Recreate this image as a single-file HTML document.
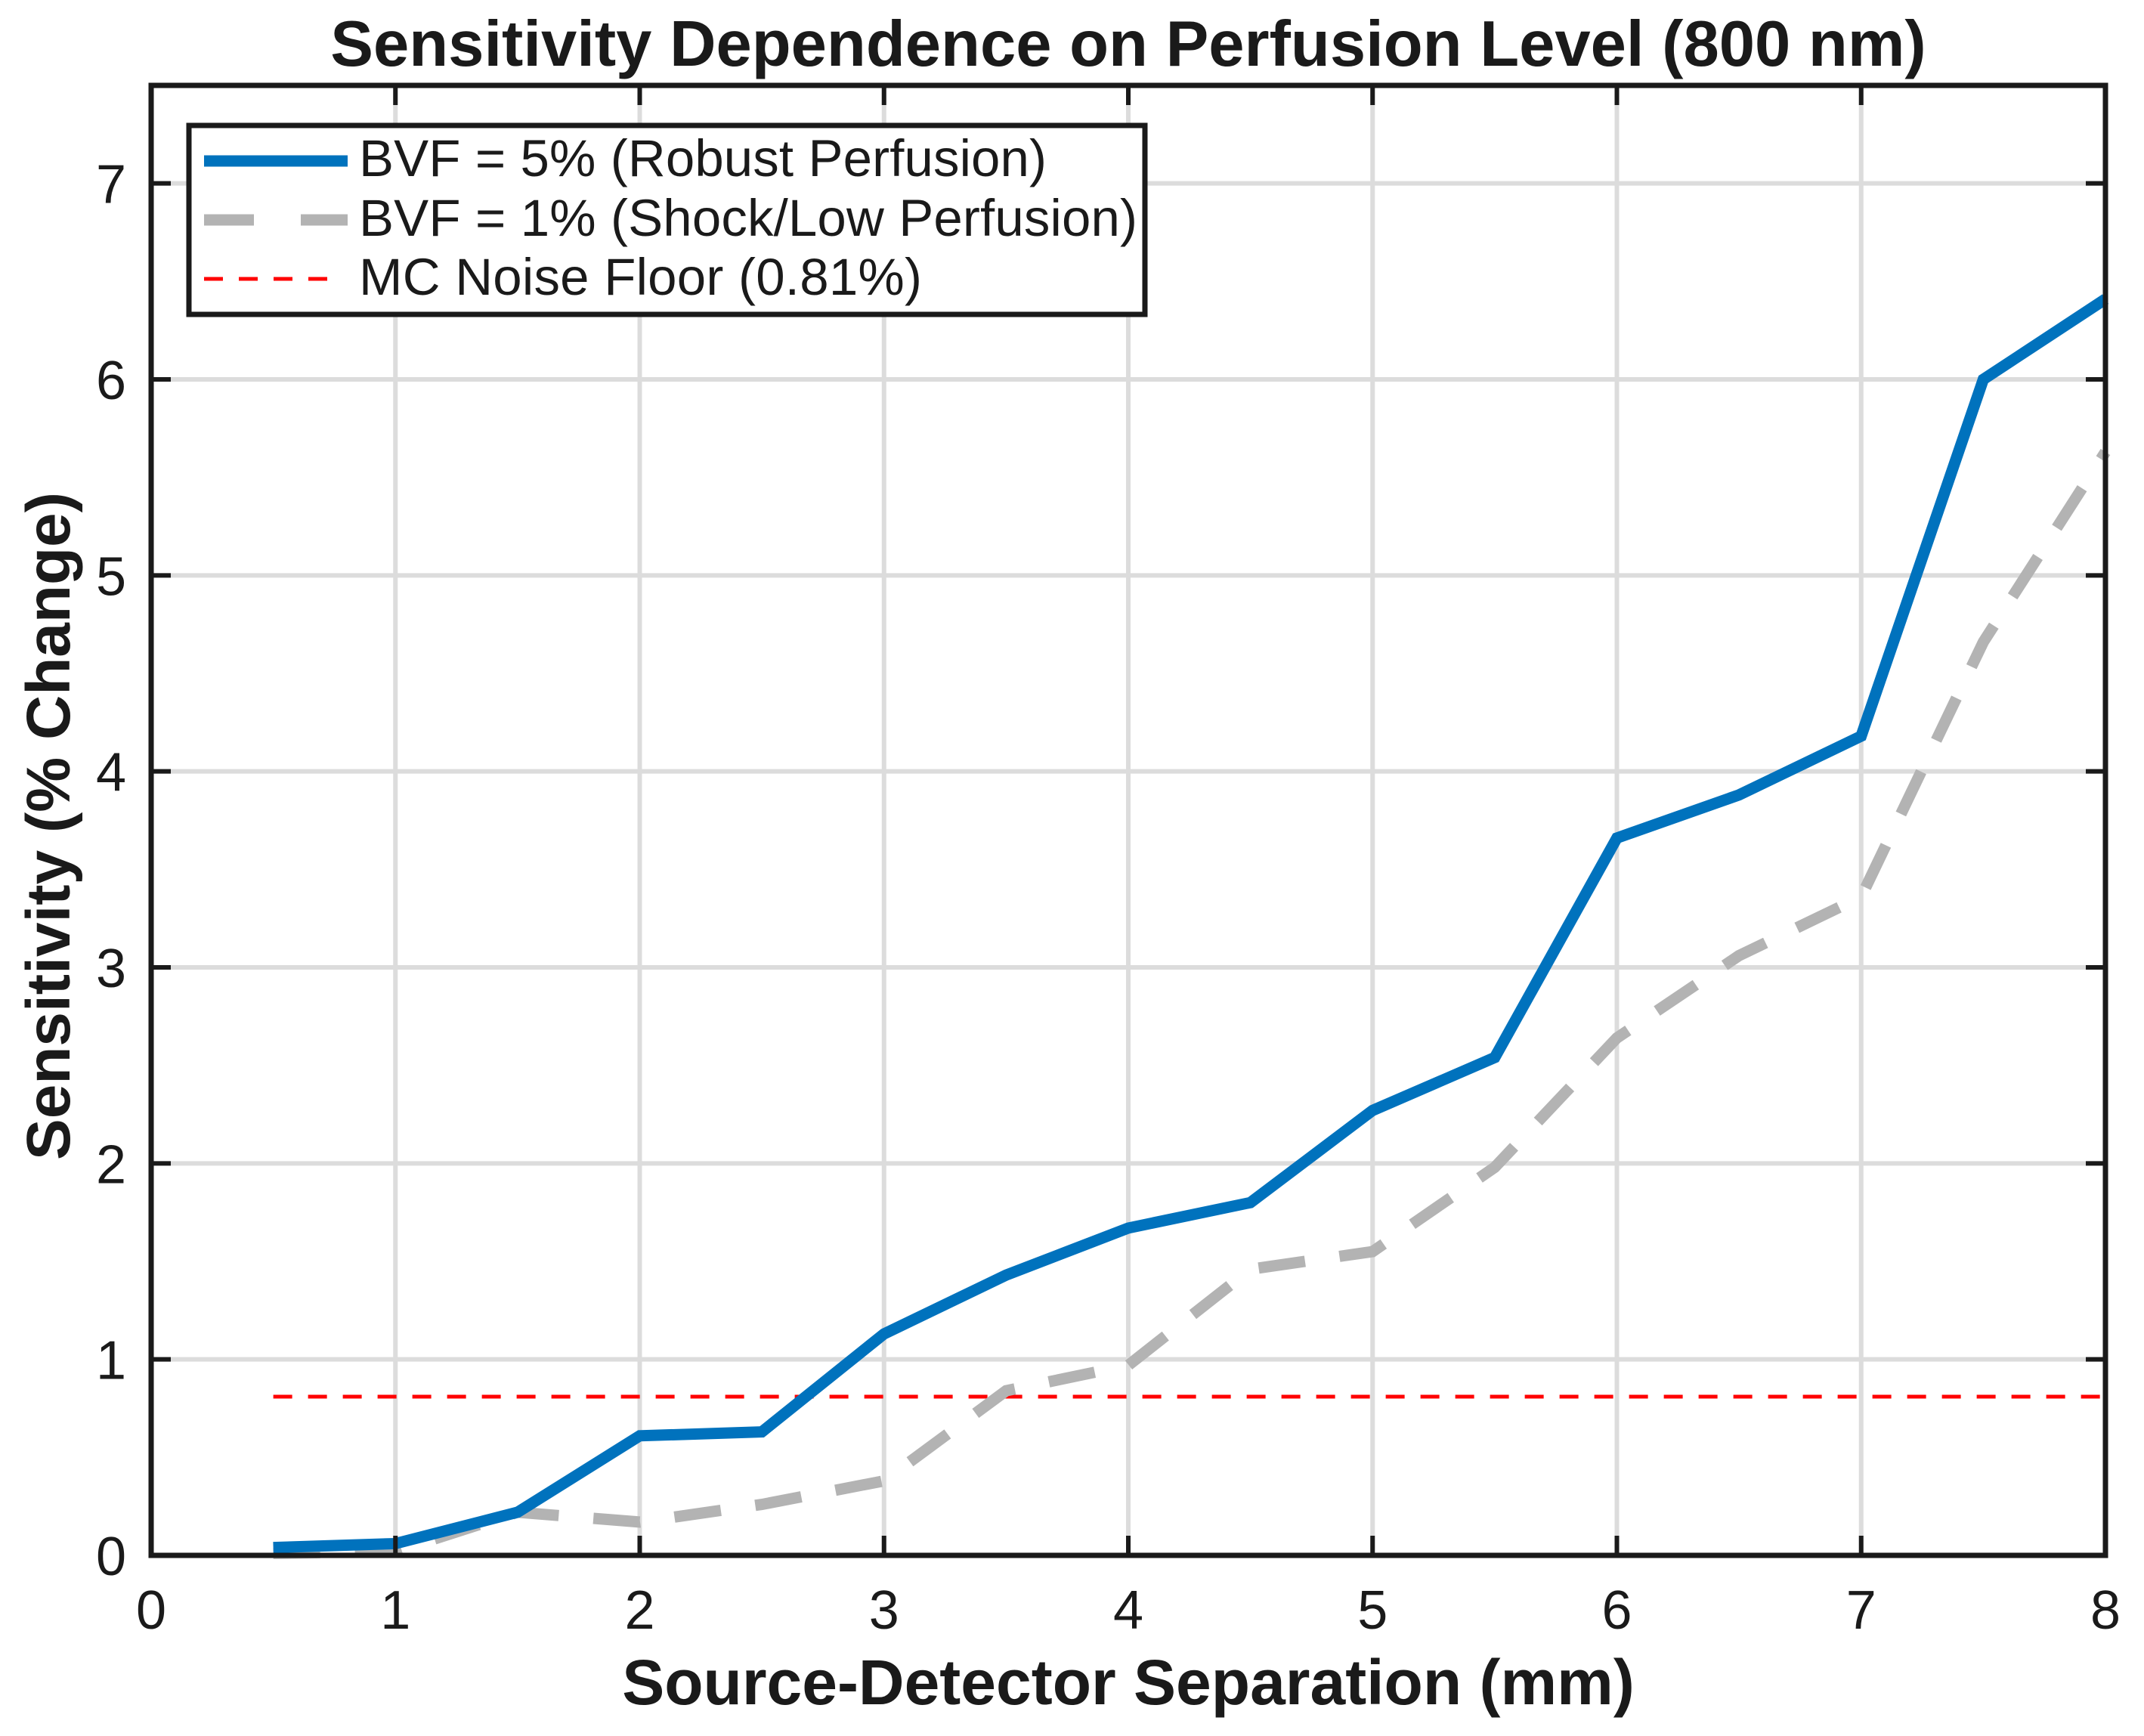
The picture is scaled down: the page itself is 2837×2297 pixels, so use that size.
<!DOCTYPE html>
<html><head><meta charset="utf-8"><style>
html,body{margin:0;padding:0;background:#fff;}
svg{display:block;font-family:"Liberation Sans",Arial,sans-serif;}
</style></head><body>
<svg id="chart" width="2837" height="2297" viewBox="0 0 2837 2297">
<g id="grid"></g>
<g id="series"></g>
<g id="axes"></g>
<text x="1493" y="87" text-anchor="middle" font-size="85" font-weight="bold" fill="#1a1a1a">Sensitivity Dependence on Perfusion Level (800 nm)</text>
<text x="1493" y="2255" text-anchor="middle" font-size="84" font-weight="bold" fill="#1a1a1a">Source-Detector Separation (mm)</text>
<text transform="translate(92,1093) rotate(-90)" text-anchor="middle" font-size="82" font-weight="bold" fill="#1a1a1a">Sensitivity (% Change)</text>
<g>
<rect x="250" y="166" width="1265" height="250" fill="#fff" stroke="#1a1a1a" stroke-width="7"/>
<g>
<line x1="270" y1="213" x2="460" y2="213" stroke="#0072bd" stroke-width="15"/>
<text x="475" y="233" font-size="69" fill="#1a1a1a" textLength="910">BVF = 5% (Robust Perfusion)</text></g>
<g>
<line x1="270" y1="291" x2="460" y2="291" stroke="#b3b3b3" stroke-width="15" stroke-dasharray="66,62"/>
<text x="475" y="312" font-size="69" fill="#1a1a1a" textLength="1030">BVF = 1% (Shock/Low Perfusion)</text></g>
<g>
<line x1="270" y1="369" x2="445" y2="369" stroke="#ff0000" stroke-width="5" stroke-dasharray="25,21"/>
<text x="475" y="390" font-size="69" fill="#1a1a1a" textLength="745">MC Noise Floor (0.81%)</text></g>
</g>
</svg>
<script>
const xs = [0.5,1,1.5,2,2.5,3,3.5,4,4.5,5,5.5,6,6.5,7,7.5,8];
const bvf5 = [0.04,0.06,0.22,0.61,0.63,1.13,1.43,1.67,1.80,2.27,2.54,3.66,3.88,4.18,6.00,6.41];
const bvf1 = [0.01,0.02,0.22,0.17,0.26,0.38,0.84,0.97,1.46,1.55,1.98,2.64,3.06,3.36,4.66,5.63];
const noiseFloor = [0.81];
const noiseRange = [0.5,8];
const xTicks = [0,1,2,3,4,5,6,7,8];
const yTicks = [0,1,2,3,4,5,6,7];

const L=200,R=2786,T=113,B=2058,XMAX=8,YMAX=7.5;
const sx=v=>L+(R-L)*v/XMAX;
const sy=v=>B-(B-T)*v/YMAX;
const NS='http://www.w3.org/2000/svg';
function mk(tag,attrs,parent){const e=document.createElementNS(NS,tag);for(const k in attrs)e.setAttribute(k,attrs[k]);parent.appendChild(e);return e;}
const grid=document.getElementById('grid'),series=document.getElementById('series'),axes=document.getElementById('axes');

xTicks.forEach(t=>{
  const g=mk('line',{x1:sx(t),x2:sx(t),y1:T,y2:B,stroke:'#dcdcdc','stroke-width':6},grid);
  
  
  const a=mk('line',{x1:sx(t),x2:sx(t),y1:B,y2:B-26,stroke:'#1a1a1a','stroke-width':6},axes);
  
  
  const b=mk('line',{x1:sx(t),x2:sx(t),y1:T,y2:T+26,stroke:'#1a1a1a','stroke-width':6},axes);
  
  
  const l=mk('text',{x:sx(t),y:2155,'text-anchor':'middle','font-size':72,fill:'#1a1a1a'},axes);
  l.textContent=t;
  
  
});
yTicks.forEach(t=>{
  const g=mk('line',{x1:L,x2:R,y1:sy(t),y2:sy(t),stroke:'#dcdcdc','stroke-width':6},grid);
  
  
  const a=mk('line',{x1:L,x2:L+26,y1:sy(t),y2:sy(t),stroke:'#1a1a1a','stroke-width':6},axes);
  
  
  const b=mk('line',{x1:R,x2:R-26,y1:sy(t),y2:sy(t),stroke:'#1a1a1a','stroke-width':6},axes);
  
  
  const l=mk('text',{x:167,y:sy(t)+26,'text-anchor':'end','font-size':72,fill:'#1a1a1a'},axes);
  l.textContent=t;
  
  
});
const frame=mk('rect',{x:L,y:T,width:R-L,height:B-T,fill:'none',stroke:'#1a1a1a','stroke-width':7},axes);



const nf=mk('line',{x1:sx(noiseRange[0]),x2:sx(noiseRange[1]),y1:sy(noiseFloor[0]),y2:sy(noiseFloor[0]),stroke:'#ff0000','stroke-width':5,'stroke-dasharray':'25,21'},series);


const p1=mk('polyline',{points:xs.map((x,i)=>sx(x)+','+sy(bvf1[i])).join(' '),fill:'none',stroke:'#b3b3b3','stroke-width':15,'stroke-dasharray':'62,46'},series);


const p5=mk('polyline',{points:xs.map((x,i)=>sx(x)+','+sy(bvf5[i])).join(' '),fill:'none',stroke:'#0072bd','stroke-width':15,'stroke-linejoin':'miter'},series);


</script>
</body></html>
